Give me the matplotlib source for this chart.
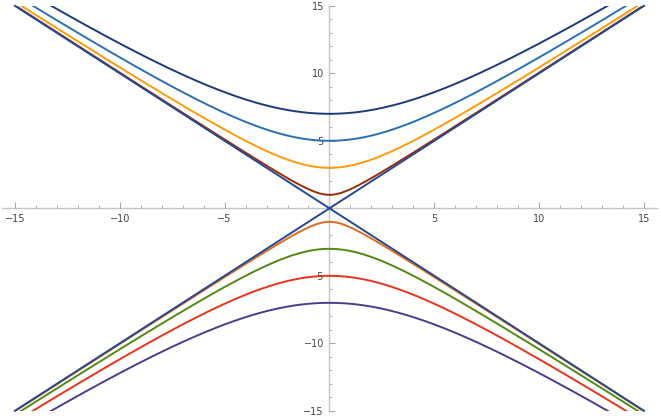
import numpy as np
import matplotlib
matplotlib.use("Agg")
import matplotlib.pyplot as plt
from matplotlib.patches import Rectangle
from matplotlib.ticker import MultipleLocator, FixedLocator

# data
upper_c = [1, 3, 5, 7]
upper_colors = ["#9b2d0a", "#ff9a0a", "#2c6fb0", "#1d3b7a"]
lower_c = [1, 3, 5, 7]
lower_colors = ["#de6c1c", "#518a12", "#e8341c", "#4a3d8c"]
asym_color = "#27498f"
x_major = [-15, -10, -5, 5, 10, 15]
y_major = [-15, -10, -5, 5, 10, 15]

fig = plt.figure(figsize=(6.61, 4.20), dpi=100)
ax = fig.add_axes([0, 0, 1, 1])
ax.set_xlim(-15.71, 15.81)
ax.set_ylim(-15.68, 15.43)

x = np.linspace(-15, 15, 3001)
clip = Rectangle((-15.62, -15), 31.24, 30, transform=ax.transData, fill=False, visible=False)
ax.add_patch(clip)

lw = 1.4
for c, col in zip(upper_c, upper_colors):
    l, = ax.plot(x, np.sqrt(x**2 + c**2), color=col, lw=lw)
    l.set_clip_path(clip)
for c, col in zip(lower_c, lower_colors):
    l, = ax.plot(x, -np.sqrt(x**2 + c**2), color=col, lw=lw)
    l.set_clip_path(clip)
ax.plot(x, x, color=asym_color, lw=lw)
ax.plot(x, -x, color=asym_color, lw=lw)

for s in ["top", "right"]:
    ax.spines[s].set_visible(False)
ax.spines["bottom"].set_position(("data", 0))
ax.spines["left"].set_position(("data", 0))
ax.spines["bottom"].set_bounds(-15.62, 15.62)
ax.spines["left"].set_bounds(-15, 15)
for s in ["bottom", "left"]:
    ax.spines[s].set_color("#c4c4c4")
    ax.spines[s].set_linewidth(1.0)
    ax.spines[s].set_zorder(0)

ax.xaxis.set_major_locator(FixedLocator(x_major))
ax.yaxis.set_major_locator(FixedLocator(y_major))
ax.xaxis.set_minor_locator(MultipleLocator(1))
ax.yaxis.set_minor_locator(MultipleLocator(1))
ax.set_xticklabels(["\u2212" + str(-v) if v < 0 else str(v) for v in x_major])
ax.set_yticklabels(["\u2212" + str(-v) if v < 0 else str(v) for v in y_major])
ax.tick_params(which="both", direction="in", color="#a8a8a8", labelsize=7,
               labelcolor="#444444")
ax.tick_params(which="major", length=4, width=0.8, pad=4)
ax.tick_params(which="minor", length=2.2, width=0.6)

ax.patch.set_alpha(0)
fig.savefig("out.png", dpi=100)
